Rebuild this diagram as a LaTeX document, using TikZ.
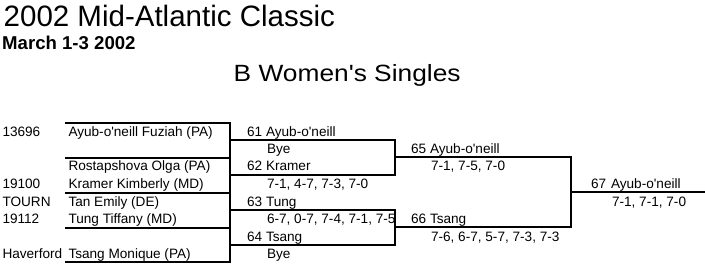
\documentclass[tikz,border=0pt]{standalone}
\usepackage{fontspec}
\usepackage{graphicx}
\setmainfont{Liberation Sans}
\newcommand{\sq}{\textquotesingle}
\begin{document}
\begin{tikzpicture}[x=1pt,y=-1pt,
  txt/.style={anchor=base west,inner sep=0pt,outer sep=0pt,font=\fontsize{13.6}{14}\selectfont},
  bline/.style={line width=2pt,line cap=rect,line join=miter}]
\useasboundingbox[fill=white] (0,0) rectangle (705,278);
% titles
\node[anchor=base west,inner sep=0pt,font=\fontsize{29.5}{32}\selectfont] (title) at (3.5,27) {2002 Mid-Atlantic Classic};
\node[anchor=base west,inner sep=0pt,font=\bfseries\fontsize{18.6}{20}\selectfont] (date) at (2,50) {March 1-3 2002};
\node[anchor=base west,inner sep=0pt,font=\fontsize{23.5}{26}\selectfont] (event) at (233.5,82) {\scalebox{1.12}[1]{B Women\sq s Singles}};
% round 1 coordinates
\coordinate (a0) at (66,123); \coordinate (b0) at (230,123);
\coordinate (a1) at (66,158); \coordinate (b1) at (230,158);
\coordinate (a2) at (66,193); \coordinate (b2) at (230,193);
\coordinate (a3) at (66,228); \coordinate (b3) at (230,228);
\coordinate (a4) at (66,262); \coordinate (b4) at (230,262);
\draw[bline] (a0) -- (b0) -- (b4) -- (a4);
\draw[bline] (a1) -- (b1);
\draw[bline] (a2) -- (b2);
\draw[bline] (a3) -- (b3);
% round 2
\coordinate (c0) at (230,140); \coordinate (d0) at (395,140);
\coordinate (c1) at (230,175); \coordinate (d1) at (395,175);
\coordinate (c2) at (230,210); \coordinate (d2) at (395,210);
\coordinate (c3) at (230,245); \coordinate (d3) at (395,245);
\draw[bline] (c0) -- (d0) -- (d1) -- (c1);
\draw[bline] (c2) -- (d2) -- (d3) -- (c3);
% round 3
\coordinate (e0) at (395,157); \coordinate (f0) at (571,157);
\coordinate (e1) at (395,227); \coordinate (f1) at (571,227);
\draw[bline] (e0) -- (f0) -- (f1) -- (e1);
% final
\coordinate (g0) at (571,192); \coordinate (h0) at (706,192);
\draw[line width=2pt] (g0) -- (h0);
% round 1 texts
\node[txt] (s1) at (2.5,136) {13696};
\node[txt] (p1) at (68.5,136) {Ayub-o\sq neill Fuziah (PA)};
\node[txt] (p2) at (68.5,171) {Rostapshova Olga (PA)};
\node[txt] (s3) at (2.5,188.5) {19100};
\node[txt] (p3) at (68.5,188.5) {Kramer Kimberly (MD)};
\node[txt] (s4) at (2.5,206) {TOURN};
\node[txt] (p4) at (68.5,206) {Tan Emily (DE)};
\node[txt] (s5) at (2.5,223.5) {19112};
\node[txt] (p5) at (68.5,223.5) {Tung Tiffany (MD)};
\node[txt] (s6) at (2.5,258.5) {Haverford};
\node[txt] (p6) at (68.5,258.5) {Tsang Monique (PA)};
% round 2 texts
\node[txt] (n61) at (247,136) {61};
\node[txt] (w61) at (266,136) {Ayub-o\sq neill};
\node[txt] (r61) at (267,153.5) {Bye};
\node[txt] (n62) at (247,171) {62};
\node[txt] (w62) at (266,171) {Kramer};
\node[txt] (r62) at (267,188.5) {7-1, 4-7, 7-3, 7-0};
\node[txt] (n63) at (247,206) {63};
\node[txt] (w63) at (266,206) {Tung};
\node[txt] (r63) at (267,223.5) {6-7, 0-7, 7-4, 7-1, 7-5};
\node[txt] (n64) at (247,241) {64};
\node[txt] (w64) at (266,241) {Tsang};
\node[txt] (r64) at (267,258.5) {Bye};
% round 3 texts
\node[txt] (n65) at (411,153.5) {65};
\node[txt] (w65) at (430,153.5) {Ayub-o\sq neill};
\node[txt] (r65) at (431,171) {7-1, 7-5, 7-0};
\node[txt] (n66) at (411,223.5) {66};
\node[txt] (w66) at (430,223.5) {Tsang};
\node[txt] (r66) at (431,241) {7-6, 6-7, 5-7, 7-3, 7-3};
% final texts
\node[txt] (n67) at (591,188.5) {67};
\node[txt] (w67) at (611,188.5) {Ayub-o\sq neill};
\node[txt] (r67) at (612,206) {7-1, 7-1, 7-0};
\end{tikzpicture}
\end{document}
